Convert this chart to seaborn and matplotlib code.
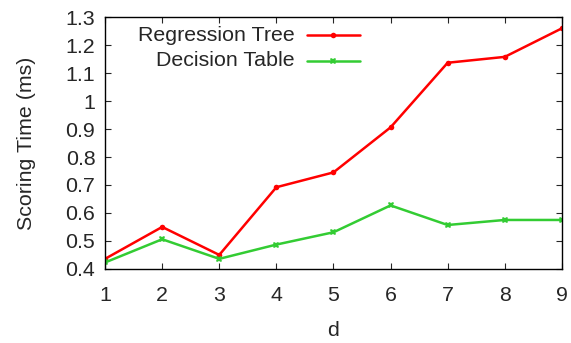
import matplotlib
matplotlib.use("Agg")
import matplotlib.pyplot as plt
import seaborn as sns
import pandas as pd
from matplotlib.lines import Line2D

d_values = [1, 2, 3, 4, 5, 6, 7, 8, 9]
regression_tree = [0.436, 0.55, 0.45, 0.692, 0.745, 0.906, 1.137, 1.158, 1.26]
decision_table = [0.423, 0.506, 0.436, 0.487, 0.531, 0.627, 0.557, 0.575, 0.575]
series_names = ["Regression Tree", "Decision Table"]
y_ticks = [0.4, 0.5, 0.6, 0.7, 0.8, 0.9, 1.0, 1.1, 1.2, 1.3]
y_tick_labels = ["0.4", "0.5", "0.6", "0.7", "0.8", "0.9", "1", "1.1", "1.2", "1.3"]

df = pd.DataFrame({
    "d": d_values * 2,
    "time": regression_tree + decision_table,
    "series": [series_names[0]] * len(d_values) + [series_names[1]] * len(d_values),
})

sns.set_style("ticks")
plt.rcParams["font.family"] = ["Liberation Sans", "DejaVu Sans"]
FS = 15.4

fig = plt.figure(figsize=(5.71, 3.43), dpi=100)
ax = fig.add_axes([0.184, 0.216, 0.800, 0.734])

palette = {series_names[0]: "#ff0000", series_names[1]: "#33cc33"}
markers = {series_names[0]: "o", series_names[1]: "X"}
sizes = {series_names[0]: 4, series_names[1]: 5}
for name in series_names:
    sub = df[df["series"] == name]
    sns.lineplot(data=sub, x="d", y="time", ax=ax, color=palette[name],
                 marker=markers[name], markersize=sizes[name], markeredgewidth=0,
                 linewidth=1.8, legend=False)

ax.set_xlim(1, 9)
ax.set_ylim(0.4, 1.3)
ax.set_xticks(d_values)
ax.set_xticklabels([str(v) for v in d_values], fontsize=FS)
ax.set_yticks(y_ticks)
ax.set_yticklabels(y_tick_labels, fontsize=FS)
ax.tick_params(direction="in", length=4, width=0.8, top=True, right=True)
ax.tick_params(axis="x", pad=12)
ax.tick_params(axis="y", pad=7)
ax.set_xlabel("d", fontsize=FS, labelpad=12)
ax.set_ylabel("Scoring Time (ms)", fontsize=FS, labelpad=21)
for s in ax.spines.values():
    s.set_linewidth(1.0)
    s.set_color("black")

# legend (gnuplot style: text right-aligned, sample to the right)
legend_rows = [0.929, 0.827]
for name, yrow in zip(series_names, legend_rows):
    ax.text(0.416, yrow, name, transform=ax.transAxes, ha="right", va="center",
            fontsize=FS)
    ax.add_line(Line2D([0.442, 0.558], [yrow, yrow], transform=ax.transAxes,
                       color=palette[name], linewidth=1.8))
    ax.add_line(Line2D([0.5], [yrow], transform=ax.transAxes, color=palette[name],
                       marker=markers[name], markersize=sizes[name],
                       markeredgewidth=0, linestyle="none"))

fig.savefig("out.png", dpi=100)
